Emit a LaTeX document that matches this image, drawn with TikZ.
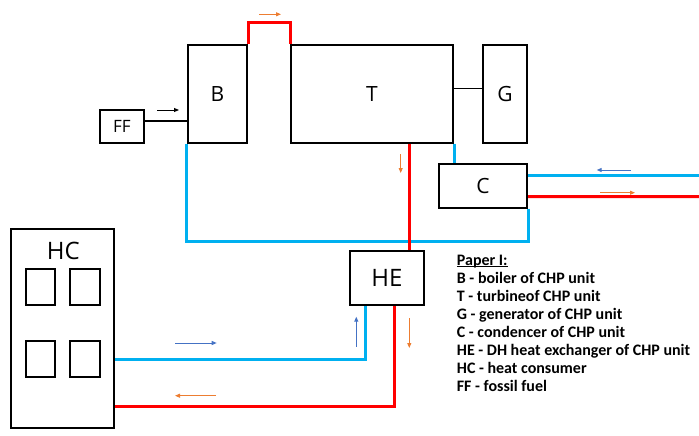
\documentclass[tikz,border=0pt]{standalone}
\usepackage{fontspec}
\setmainfont{Open Sans}
\newfontfamily\legendfont{Carlito}
\usetikzlibrary{arrows.meta}
\definecolor{pipeblue}{HTML}{00B0F0}
\definecolor{pipered}{HTML}{FF0000}
\definecolor{arrorange}{HTML}{ED7D31}
\definecolor{arrblue}{HTML}{4472C4}
\newlength\myulwidth
\newcommand\myunderline[1]{\settowidth{\myulwidth}{#1}\rlap{\rule[-1.9pt]{\myulwidth}{0.9pt}}#1}
\tikzset{
  box/.style={draw=black, line width=2pt, rectangle, inner sep=0pt, fill=none},
  biglabel/.style={font=\fontsize{21}{21}\selectfont},
  hugelabel/.style={font=\fontsize{24}{24}\selectfont},
  bluepipe/.style={draw=pipeblue, line width=3pt},
  redpipe/.style={draw=pipered, line width=3pt},
  flowarr/.style={line width=1pt, -{Triangle[length=5pt,width=4pt]}},
}
\begin{document}
\begin{tikzpicture}[x=1pt,y=-1pt]
\useasboundingbox (0,0) rectangle (699,436);
% main boxes
\node[box, minimum width=44pt, minimum height=33pt, font=\fontsize{17}{17}\selectfont] (FF) at (122,126.5) {FF};
\node[box, biglabel, minimum width=59.3pt, minimum height=98pt] (B) at (217.35,93.7) {B};
\node[box, biglabel, minimum width=162pt, minimum height=98pt] (T) at (372,93.7) {T};
\node[box, biglabel, minimum width=44pt, minimum height=98pt] (G) at (505,93.7) {G};
\node[box, biglabel, minimum width=88pt, minimum height=43.7pt] (C) at (483,185.85) {C};
\node[box, hugelabel, minimum width=74pt, minimum height=54.3pt] (HE) at (387,277.85) {HE};
\node[box, minimum width=103.3pt, minimum height=199pt] (HC) at (62.65,328.5) {};
\node[hugelabel] (HClabel) at (63.3,251) {HC};
\node[box, minimum width=29.3pt, minimum height=36pt] (r1) at (40.35,287) {};
\node[box, minimum width=29.3pt, minimum height=36pt] (r2) at (85,287) {};
\node[box, minimum width=29.3pt, minimum height=36pt] (r3) at (40.35,358.85) {};
\node[box, minimum width=29.3pt, minimum height=36pt] (r4) at (85,358.85) {};
% external ends
\coordinate (bluein) at (699,175);
\coordinate (redout) at (699,196.7);
% thin links
\draw[line width=1.5pt] ([yshift=5.5pt]FF.east) -- ([yshift=5.5pt]FF.east -| B.west);
\draw[line width=1pt] ([yshift=5.4pt]T.east) -- ([yshift=5.4pt]G.west);
% blue pipes
\draw[bluepipe] (T.south east) -- (T.south east |- C.north);
\draw[bluepipe] (C.south east) -- ++(0,32.3) -| (B.south west);
\draw[bluepipe] ([yshift=10.85pt]C.east) -- (bluein);
\draw[bluepipe] ([xshift=-21.7pt]HE.south) |- ([yshift=-30.8pt]HC.east);
% red pipes
\draw[redpipe] (B.north east) -- ++(0,-21.4) -| (T.north west);
\draw[redpipe] ([xshift=37.3pt]T.south) -- ([xshift=22.3pt]HE.north);
\draw[redpipe] ([yshift=-10.85pt]C.east) -- (redout);
\draw[redpipe] ([xshift=7.3pt]HE.south) |- ([yshift=-77.5pt]HC.east);
% flow arrows
\draw[flowarr, black] (157,110) -- (179,110);
\draw[flowarr, arrorange] (259,14.3) -- (281,14.3);
\draw[flowarr, arrorange] (400.7,154) -- (400.7,173);
\draw[flowarr, arrblue] (631,170) -- (596.7,170);
\draw[flowarr, arrorange] (600,192.7) -- (635,192.7);
\draw[flowarr, arrblue] (356.3,346.7) -- (356.3,316.7);
\draw[flowarr, arrorange] (409.3,318) -- (409.3,348);
\draw[flowarr, arrblue] (175,343) -- (216.7,343);
\draw[flowarr, arrorange] (216,395.7) -- (175,395.7);
% legend
\node[anchor=north west, inner sep=0pt, align=left, font=\legendfont\bfseries\fontsize{16}{18}\selectfont] (legend) at (456.7,254.5)
{\myunderline{Paper I:}\\
B - boiler of CHP unit\\
T - turbineof CHP unit\\
G - generator of CHP unit\\
C - condencer of CHP unit\\
HE - DH heat exchanger of CHP unit\\
HC - heat consumer\\
FF - fossil fuel};
\end{tikzpicture}
\end{document}
